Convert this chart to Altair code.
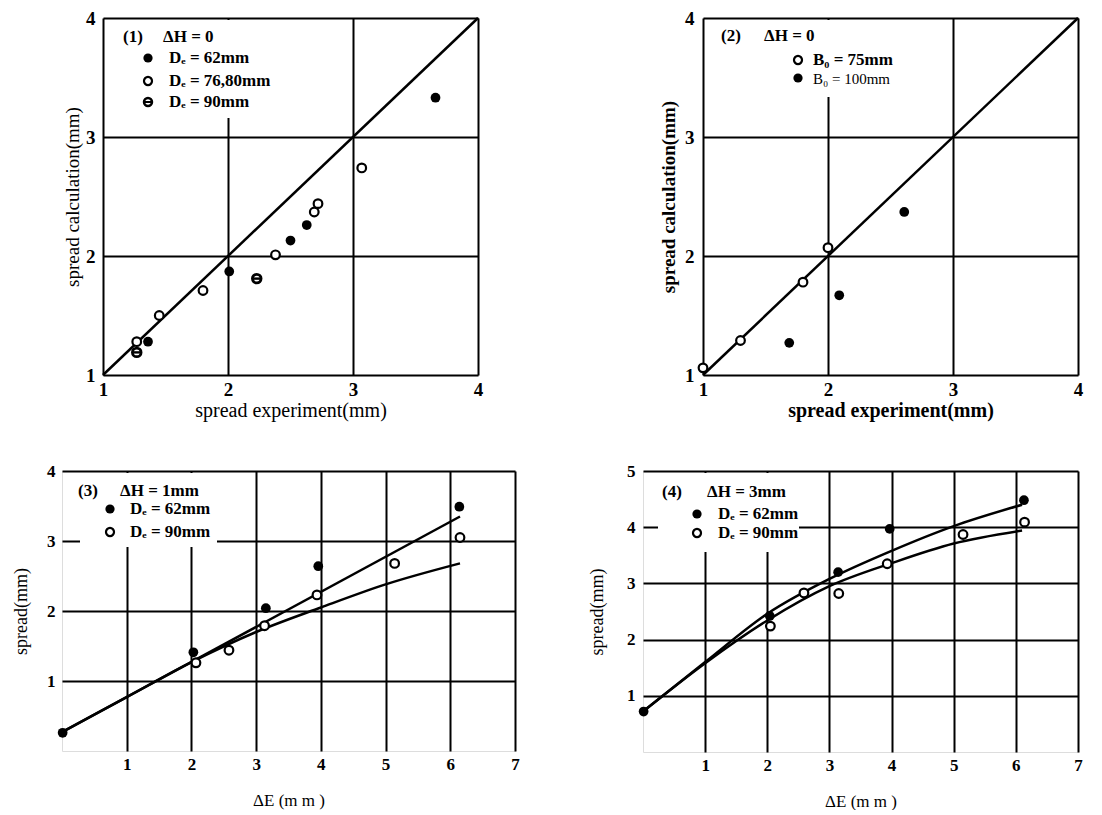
import altair as alt
import pandas as pd

SERIF = "Liberation Serif"

# ---------------- data ----------------
# Panel 1  (ΔH = 0)
p1_x_62 = [1.36, 2.01, 2.50, 2.63, 3.66]
p1_y_62 = [1.28, 1.87, 2.13, 2.26, 3.33]
p1_x_7680 = [1.27, 1.45, 1.80, 2.38, 2.69, 2.72, 3.07]
p1_y_7680 = [1.28, 1.50, 1.71, 2.01, 2.37, 2.44, 2.74]
p1_x_90 = [1.27, 2.23]
p1_y_90 = [1.19, 1.81]
diag_x = [1, 4]
diag_y = [1, 4]

# Panel 2  (ΔH = 0)
p2_x_75 = [1.00, 1.30, 1.80, 2.00]
p2_y_75 = [1.06, 1.29, 1.78, 2.07]
p2_x_100 = [1.69, 2.09, 2.61]
p2_y_100 = [1.27, 1.67, 2.37]

# Panel 3  (ΔH = 1mm)
p3_x_62 = [0.01, 2.03, 3.15, 3.96, 6.14]
p3_y_62 = [0.26, 1.41, 2.04, 2.64, 3.49]
p3_x_90 = [2.07, 2.58, 3.13, 3.94, 5.14, 6.15]
p3_y_90 = [1.26, 1.44, 1.79, 2.23, 2.68, 3.05]
p3_lineA_x = [0.0, 6.15]
p3_lineA_y = [0.27, 3.35]
p3_lineB_x = [0.0, 1.0, 2.0, 3.0, 4.0, 5.0, 6.15]
p3_lineB_y = [0.27, 0.77, 1.27, 1.70, 2.05, 2.38, 2.68]

# Panel 4  (ΔH = 3mm)
p4_x_62 = [0.01, 2.04, 3.14, 3.97, 6.13]
p4_y_62 = [0.72, 2.42, 3.20, 3.97, 4.48]
p4_x_90 = [2.05, 2.59, 3.15, 3.93, 5.15, 6.14]
p4_y_90 = [2.24, 2.83, 2.82, 3.35, 3.87, 4.09]
p4_up_x = [0.0, 1.0, 2.0, 3.0, 4.0, 5.0, 6.1]
p4_up_y = [0.72, 1.60, 2.46, 3.08, 3.58, 4.02, 4.40]
p4_lo_x = [0.0, 1.0, 2.0, 3.0, 4.0, 5.0, 6.1]
p4_lo_y = [0.72, 1.58, 2.34, 2.95, 3.36, 3.71, 3.94]

xticks_top = [1, 2, 3, 4]
yticks_top = [1, 2, 3, 4]
xticks_bot = [1, 2, 3, 4, 5, 6, 7]
yticks_p3 = [1, 2, 3, 4]
yticks_p4 = [1, 2, 3, 4, 5]


# ---------------- helpers ----------------
def axis(values, title, lfs, tfs, lpad, tpad, tweight="normal"):
    return alt.Axis(
        values=values, grid=True, gridColor="black", gridWidth=2, gridOpacity=1,
        domain=False, ticks=False, labelFont=SERIF, labelFontSize=lfs,
        labelFontWeight="bold", labelColor="black", labelPadding=lpad,
        labelFlush=False, labelOverlap=False, format="d",
        title=title, titleFont=SERIF, titleFontSize=tfs, titleFontWeight=tweight,
        titleColor="black", titlePadding=tpad,
    )


def enc_xy(xdom, ydom, xax, yax):
    return dict(
        x=alt.X("x:Q", scale=alt.Scale(domain=xdom, nice=False, zero=False), axis=xax),
        y=alt.Y("y:Q", scale=alt.Scale(domain=ydom, nice=False, zero=False), axis=yax),
    )


def df(xs, ys):
    return pd.DataFrame({"x": xs, "y": ys})


def filled_pts(d, xdom, ydom, xax, yax):
    return alt.Chart(d).mark_circle(size=95, color="black", opacity=1).encode(
        **enc_xy(xdom, ydom, xax, yax))


def open_pts(d, xdom, ydom, xax, yax):
    return alt.Chart(d).mark_point(shape="circle", filled=True, fill="white", stroke="black",
                                   strokeWidth=2.2, size=75, opacity=1, fillOpacity=1).encode(
        **enc_xy(xdom, ydom, xax, yax))


def half_pts(d, xdom, ydom, xax, yax):
    a = alt.Chart(d).mark_point(shape="circle", filled=True, fill="white", stroke="black",
                                strokeWidth=2.8, size=75, opacity=1, fillOpacity=1).encode(
        **enc_xy(xdom, ydom, xax, yax))
    b = alt.Chart(d).mark_point(shape="stroke", stroke="black", strokeWidth=2.4, size=50,
                                opacity=1).encode(**enc_xy(xdom, ydom, xax, yax))
    return [a, b]


def line(d, xdom, ydom, xax, yax, interp="linear"):
    return alt.Chart(d).mark_line(color="black", strokeWidth=2.5, interpolate=interp).encode(
        **enc_xy(xdom, ydom, xax, yax))


one = pd.DataFrame({"k": [0]})


def box(x0, y0, x1, y1):
    return alt.Chart(one).mark_rect(color="white", opacity=1).encode(
        x=alt.value(x0), x2=alt.value(x1), y=alt.value(y0), y2=alt.value(y1))


def txt(s, px, py, size=17, weight="bold", color="black"):
    return alt.Chart(pd.DataFrame({"t": [s]})).mark_text(
        font=SERIF, fontSize=size, fontWeight=weight, color=color, align="left",
        baseline="middle").encode(x=alt.value(px), y=alt.value(py), text="t:N")


def sym(kind, px, py):
    if kind == "filled":
        return [alt.Chart(one).mark_circle(size=85, color="black", opacity=1).encode(
            x=alt.value(px), y=alt.value(py))]
    if kind == "open":
        return [alt.Chart(one).mark_point(shape="circle", filled=True, fill="white",
                                          stroke="black", strokeWidth=2.2, size=65,
                                          opacity=1).encode(x=alt.value(px), y=alt.value(py))]
    return [
        alt.Chart(one).mark_point(shape="circle", filled=True, fill="white", stroke="black",
                                  strokeWidth=2.4, size=65, opacity=1).encode(
            x=alt.value(px), y=alt.value(py)),
        alt.Chart(one).mark_point(shape="stroke", stroke="black", strokeWidth=2, size=45,
                                  opacity=1).encode(x=alt.value(px), y=alt.value(py)),
    ]


# ---------------- panel 1 ----------------
W1, H1 = 375, 357
dom_t = [1, 4]
ax1x = axis(xticks_top, "spread experiment(mm)", 19, 20, 5, 1)
ax1y = axis(yticks_top, "spread calculation(mm)", 19, 19, 8, 3)
p1_layers = [box(2, 2, 195, 100),
             line(df(diag_x, diag_y), dom_t, dom_t, ax1x, ax1y),
             filled_pts(df(p1_x_62, p1_y_62), dom_t, dom_t, ax1x, ax1y),
             open_pts(df(p1_x_7680, p1_y_7680), dom_t, dom_t, ax1x, ax1y)]
p1_layers += half_pts(df(p1_x_90, p1_y_90), dom_t, dom_t, ax1x, ax1y)
p1_layers += [txt("(1)", 20, 19), txt("ΔH = 0", 60, 19)]
p1_layers += sym("filled", 45, 40) + [txt("Dₑ = 62mm", 66, 40)]
p1_layers += sym("open", 45, 63) + [txt("Dₑ = 76,80mm", 66, 63)]
p1_layers += sym("half", 45, 84) + [txt("Dₑ = 90mm", 66, 84)]
panel1 = alt.layer(*p1_layers).properties(width=W1, height=H1)

# ---------------- panel 2 ----------------
ax2x = axis(xticks_top, "spread experiment(mm)", 19, 20, 5, 1, "bold")
ax2y = axis(yticks_top, "spread calculation(mm)", 19, 19, 9, 6, "bold")
p2_layers = [box(2, 2, 222, 79),
             line(df(diag_x, diag_y), dom_t, dom_t, ax2x, ax2y),
             open_pts(df(p2_x_75, p2_y_75), dom_t, dom_t, ax2x, ax2y),
             filled_pts(df(p2_x_100, p2_y_100), dom_t, dom_t, ax2x, ax2y)]
p2_layers += [txt("(2)", 18, 18), txt("ΔH = 0", 61, 18)]
p2_layers += sym("open", 95, 42) + [txt("B₀ = 75mm", 110, 42)]
p2_layers += sym("filled", 95, 60) + [txt("B₀ = 100mm", 110, 61, 15, "normal")]
panel2 = alt.layer(*p2_layers).properties(width=W1, height=H1)

# ---------------- panel 3 ----------------
dom_x = [0, 7]
ax3x = axis(xticks_bot, "ΔE (m m )", 17, 17, 5, 20)
ax3y = axis(yticks_p3, "spread(mm)", 17, 18, 7, 16)
p3_layers = [box(18, 2, 155, 76),
             line(df(p3_lineA_x, p3_lineA_y), dom_x, [0, 4], ax3x, ax3y),
             line(df(p3_lineB_x, p3_lineB_y), dom_x, [0, 4], ax3x, ax3y, "monotone"),
             filled_pts(df(p3_x_62, p3_y_62), dom_x, [0, 4], ax3x, ax3y),
             open_pts(df(p3_x_90, p3_y_90), dom_x, [0, 4], ax3x, ax3y)]
p3_layers += [txt("(3)", 16, 20), txt("ΔH = 1mm", 58, 20)]
p3_layers += sym("filled", 48, 38) + [txt("Dₑ = 62mm", 68, 38)]
p3_layers += sym("open", 48, 61) + [txt("Dₑ = 90mm", 68, 61)]
panel3 = alt.layer(*p3_layers).properties(width=453, height=280)

# ---------------- panel 4 ----------------
ax4x = axis(xticks_bot, "ΔE (m m )", 17, 17, 5, 20)
ax4y = axis(yticks_p4, "spread(mm)", 17, 18, 8, 20)
p4_layers = [box(15, 2, 156, 81),
             line(df(p4_up_x, p4_up_y), dom_x, [0, 5], ax4x, ax4y, "monotone"),
             line(df(p4_lo_x, p4_lo_y), dom_x, [0, 5], ax4x, ax4y, "monotone"),
             filled_pts(df(p4_x_62, p4_y_62), dom_x, [0, 5], ax4x, ax4y),
             open_pts(df(p4_x_90, p4_y_90), dom_x, [0, 5], ax4x, ax4y)]
p4_layers += [txt("(4)", 19, 21), txt("ΔH = 3mm", 64, 21)]
p4_layers += sym("filled", 54, 43) + [txt("Dₑ = 62mm", 75, 43)]
p4_layers += sym("open", 54, 62) + [txt("Dₑ = 90mm", 75, 62)]
panel4 = alt.layer(*p4_layers).properties(width=435, height=281)

# ---------------- layout ----------------
spacer = alt.Chart(one).mark_point(opacity=0, size=1).properties(
    width=1, height=1, view=alt.ViewBackground(strokeOpacity=0))

top = alt.hconcat(spacer, alt.hconcat(panel1, panel2, spacing=175), spacing=0)
bottom = alt.hconcat(panel3, panel4, spacing=68)

chart = alt.vconcat(top, bottom, spacing=40).properties(
    padding={"left": 4, "top": 0, "right": 0, "bottom": 0}
).configure_view(stroke="black", strokeWidth=2.5).configure(background="white")

chart.save("out.html", embed_options={"renderer": "svg", "actions": False})
